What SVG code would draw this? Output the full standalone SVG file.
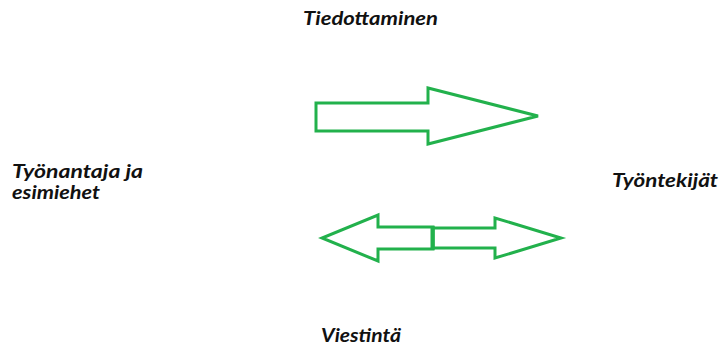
<svg xmlns="http://www.w3.org/2000/svg" width="721" height="347" viewBox="0 0 721 347">
  <style>
    .lbl { font-family: Lato, "Open Sans", "Liberation Sans", sans-serif; font-weight: bold; font-style: italic; font-size: 18px; fill: #111; }
    .arrow { fill: none; stroke: #22b14c; stroke-width: 3; stroke-linejoin: miter; }
  </style>
  <rect width="721" height="347" fill="#ffffff"/>

  <g id="employer">
    <text class="lbl" x="12" y="178" textLength="131" lengthAdjust="spacingAndGlyphs">Työnantaja ja</text>
    <text class="lbl" x="12" y="199" textLength="88" lengthAdjust="spacingAndGlyphs">esimiehet</text>
  </g>
  <g id="employees">
    <text class="lbl" x="612" y="187" textLength="106" lengthAdjust="spacingAndGlyphs">Työntekijät</text>
  </g>

  <g id="connectors">
    <g id="informing">
      <polygon class="arrow" points="316,103 428,103 428,88 538,116 428,144 428,131 316,131"/>
      <text class="lbl" x="303" y="25" textLength="135" lengthAdjust="spacingAndGlyphs">Tiedottaminen</text>
    </g>
    <g id="communication">
      <polygon class="arrow" points="433,227 378,227 378,215 322,238 378,261 378,249 433,249"/>
      <polygon class="arrow" points="433,228 495,228 495,218 561,238 495,258 495,248 433,248"/>
      <line x1="432.5" y1="226" x2="432.5" y2="250" stroke="#22b14c" stroke-width="4"/>
      <text class="lbl" x="321" y="342" textLength="80" lengthAdjust="spacingAndGlyphs">Viestintä</text>
    </g>
  </g>
</svg>
